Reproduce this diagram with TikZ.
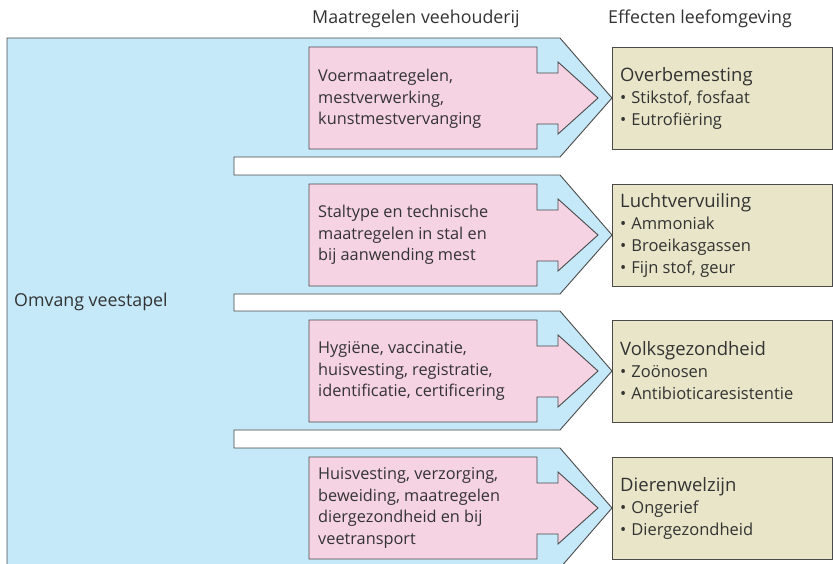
\documentclass[tikz,border=0pt]{standalone}
\usepackage{fontspec}
\setmainfont{Open Sans}
\definecolor{bluefill}{HTML}{C5E9F9}
\definecolor{pinkfill}{HTML}{F5D3E3}
\definecolor{beigefill}{HTML}{E8E5C8}
\definecolor{edge}{HTML}{4A4A4A}
\definecolor{txt}{HTML}{333333}
\tikzset{
  bandedge/.style={draw=edge, line width=0.9pt, line join=miter},
  pinktxt/.style={anchor=west, align=left, text=txt, inner sep=0pt, font=\fontsize{16.3}{21.5}\selectfont},
  effbox/.style={draw=edge, fill=beigefill, line width=0.9pt},
  efftxt/.style={anchor=west, align=left, text=txt, inner sep=0pt, font=\fontsize{16.5}{22}\selectfont},
  headtxt/.style={anchor=west, text=txt, inner sep=0pt, font=\fontsize{17.8}{20}\selectfont},
}
\newcommand{\efftitle}[1]{{\fontsize{18.5}{22}\selectfont #1}}
\newcommand{\bul}{•\hspace{5pt}}
\begin{document}
\begin{tikzpicture}[x=1pt,y=-1pt]
\useasboundingbox (0,0) rectangle (833,563);
\begin{scope}
\clip (0,0) rectangle (833,563);
\fill[white] (0,0) rectangle (833,563);
\draw[bandedge, fill=bluefill] (7,38) -- (560,38) -- (612,98) -- (560,157) -- (234,157) -- (234,175)
  -- (560,175) -- (612,235) -- (560,294) -- (234,294) -- (234,311)
  -- (560,311) -- (612,371) -- (560,430) -- (234,430) -- (234,448)
  -- (560,448) -- (612,508) -- (560,568) -- (7,568) -- cycle;
\foreach \c in {98,235,371,508}{
  \draw[bandedge, fill=pinkfill] (309,\c-51) -- (537,\c-51) -- (537,\c-25) -- (558,\c-25) -- (558,\c-36)
    -- (598,\c) -- (558,\c+36) -- (558,\c+26) -- (537,\c+26) -- (537,\c+51) -- (309,\c+51) -- cycle;
  \draw[effbox] (612,\c-51) rectangle (832,\c+51);
}
\end{scope}
\node[headtxt] (h1) at (312,19) {Maatregelen veehouderij};
\node[headtxt] (h2) at (608,19) {Effecten leefomgeving};
\node[headtxt] (stapel) at (14,302) {Omvang veestapel};
\node[pinktxt] (m1) at (318,99) {Voermaatregelen,\\mestverwerking,\\kunstmestvervanging};
\node[pinktxt] (m2) at (318,235) {Staltype en technische\\maatregelen in stal en\\bij aanwending mest};
\node[pinktxt] (m3) at (318,371) {Hygiëne, vaccinatie,\\huisvesting, registratie,\\identificatie, certificering};
\node[pinktxt] (m4) at (318,508) {Huisvesting, verzorging,\\beweiding, maatregelen\\diergezondheid en bij\\veetransport};
\node[efftxt] (e1) at (620,98) {\efftitle{Overbemesting}\\\bul Stikstof, fosfaat\\\bul Eutrofiëring};
\node[efftxt] (e2) at (620,235) {\efftitle{Luchtvervuiling}\\\bul Ammoniak\\\bul Broeikasgassen\\\bul Fijn stof, geur};
\node[efftxt] (e3) at (620,371) {\efftitle{Volksgezondheid}\\\bul Zoönosen\\\bul Antibioticaresistentie};
\node[efftxt] (e4) at (620,508) {\efftitle{Dierenwelzijn}\\\bul Ongerief\\\bul Diergezondheid};
\end{tikzpicture}
\end{document}
